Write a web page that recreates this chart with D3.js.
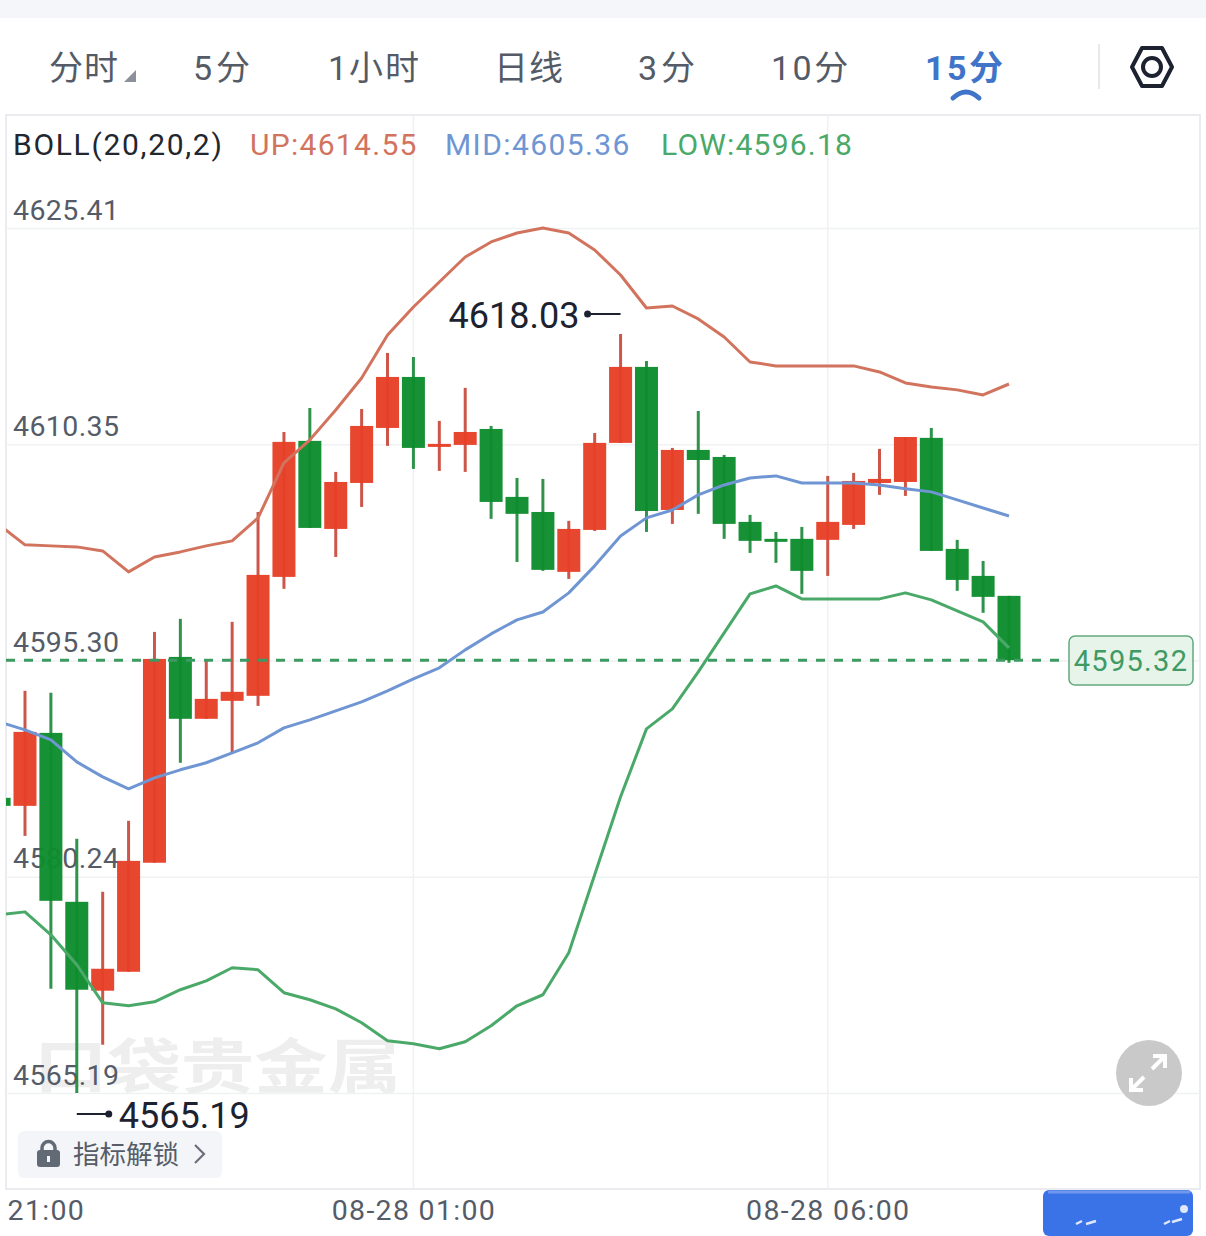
<!DOCTYPE html>
<html><head><meta charset="utf-8">
<script src="https://cdn.jsdelivr.net/npm/d3@7/dist/d3.min.js"></script>
<style>html,body{margin:0;padding:0;background:#fff;overflow:hidden}svg{display:block}
text{font-family:Roboto,"Noto Sans CJK SC",sans-serif}</style></head>
<body><div id="chart"></div>
<script>
// ---- data ----
const tabs = ["分时","5分","1小时","日线","3分","10分","15分"];
const tabX = [49,193,328,494,638,771,925];
const tabSpacing = [1,4,2,1,4,2.5,2.5];
const activeTab = 6;
const timeLabels = ["21:00","08-28 01:00","08-28 06:00"];
const timeTicks = [0,16,32];
const priceTicks = [4625.41,4610.35,4595.30,4580.24,4565.19];
const lastPrice = 4595.32;
const highMark = 4618.03, lowMark = 4565.19;
const opens  = [4585.74,4585.18,4590.26,4578.50,4572.31,4573.63,4581.22,4595.55,4591.24,4592.49,4592.84,4601.12,4610.59,4604.46,4607.66,4611.49,4615.04,4610.17,4610.31,4611.42,4606.69,4605.64,4601.47,4604.39,4610.45,4615.74,4605.78,4609.96,4609.47,4604.95,4603.77,4603.77,4603.70,4604.74,4607.66,4607.73,4610.80,4603.07,4601.19,4599.80];
const closes = [4585.18,4590.33,4578.57,4572.38,4573.84,4581.35,4595.41,4591.24,4592.63,4593.12,4601.26,4610.52,4604.53,4607.73,4611.63,4615.04,4610.10,4610.38,4611.21,4606.34,4605.51,4601.61,4604.46,4610.45,4615.74,4605.71,4609.96,4609.26,4604.81,4603.63,4603.56,4601.54,4604.95,4607.80,4607.94,4610.86,4602.93,4600.91,4599.73,4595.32];
const highs  = [4585.74,4593.19,4593.05,4582.89,4579.20,4584.14,4597.29,4598.20,4595.34,4597.99,4605.64,4611.21,4612.88,4608.43,4612.81,4616.71,4616.43,4611.98,4614.28,4611.63,4608.01,4607.94,4605.02,4611.14,4618.03,4616.15,4610.10,4612.67,4609.61,4605.44,4604.25,4604.60,4608.15,4608.36,4610.03,4610.86,4611.49,4603.70,4602.23,4599.80];
const lows   = [4585.18,4583.09,4572.45,4565.19,4568.55,4573.63,4581.22,4588.18,4591.24,4588.87,4592.14,4600.29,4604.53,4602.51,4605.99,4610.24,4608.64,4608.50,4608.43,4605.16,4602.16,4601.54,4600.98,4604.32,4610.45,4604.25,4604.81,4605.51,4603.77,4602.79,4602.10,4599.94,4601.19,4604.46,4606.83,4606.76,4602.93,4600.15,4598.62,4595.14];
const bollUp  = [4604.74,4603.35,4603.28,4603.21,4602.93,4601.47,4602.51,4602.86,4603.28,4603.63,4605.23,4609.06,4610.66,4612.74,4614.97,4617.96,4619.91,4621.65,4623.39,4624.44,4625.06,4625.41,4625.06,4623.88,4622.14,4619.84,4619.98,4619.08,4617.82,4616.08,4615.81,4615.81,4615.81,4615.81,4615.39,4614.62,4614.34,4614.14,4613.79,4614.55];
const bollMid = [4591.03,4590.47,4589.78,4588.24,4587.20,4586.37,4587.13,4587.69,4588.18,4588.87,4589.57,4590.61,4591.17,4591.79,4592.42,4593.19,4594.02,4594.79,4596.04,4597.15,4598.13,4598.68,4600.01,4601.89,4603.97,4605.23,4605.78,4606.83,4607.52,4608.01,4608.15,4607.66,4607.66,4607.66,4607.52,4607.25,4607.04,4606.48,4605.92,4605.36];
const bollLow = [4577.60,4577.80,4576.20,4574.12,4571.47,4571.26,4571.54,4572.38,4573.00,4573.91,4573.77,4572.17,4571.68,4571.05,4570.08,4568.83,4568.62,4568.27,4568.76,4569.87,4571.26,4572.03,4574.95,4580.38,4585.81,4590.54,4591.93,4594.51,4597.22,4599.94,4600.49,4599.59,4599.59,4599.59,4599.59,4600.01,4599.52,4598.75,4597.99,4596.18];

// ---- layout ----
const W = 1206, H = 1236;
const plot = {l:6, r:1200, t:115, b:1189};
const C = {red:"#e73f26", green:"#0e8c2d", redW:"#c7483a", greenW:"#1e8a3c",
  up:"#d2735e", mid:"#6f96d3", low:"#4aa968", grid:"#f0f1f3", frame:"#eaecef", tick:"#555c68", ink:"#1c2230", blue:"#3f74c9"};
const svg = d3.select("#chart").append("svg").attr("width",W).attr("height",H).attr("viewBox",`0 0 ${W} ${H}`);
const x = d3.scaleLinear().domain([0,39]).range([-0.9,1009]);
const y = d3.scaleLinear().domain([priceTicks[0],priceTicks[4]]).range([228,1093]);
const bodyW = 23;

svg.append("defs").append("clipPath").attr("id","plotClip").append("rect")
  .attr("x",plot.l).attr("y",plot.t).attr("width",plot.r-plot.l).attr("height",plot.b-plot.t);

// top strip and tabs
svg.append("rect").attr("width",W).attr("height",18).attr("fill","#f4f6f9");
tabs.forEach((t,i)=>{
  svg.append("text").attr("x",tabX[i]).attr("y",80).attr("font-size",34)
    .attr("letter-spacing",tabSpacing[i]).attr("font-weight",i===activeTab?700:400)
    .attr("fill",i===activeTab?C.blue:"#545b66").text(t);
});
svg.append("path").attr("d","M124,82H136V70Z").attr("fill","#8c9098");
svg.append("path").attr("d","M953,98Q966,86 979,98").attr("fill","none").attr("stroke",C.blue).attr("stroke-width",5).attr("stroke-linecap","round");
svg.append("line").attr("x1",1099).attr("x2",1099).attr("y1",44).attr("y2",89).attr("stroke","#e6e8eb").attr("stroke-width",2);
svg.append("path").attr("d","M1132,67L1142,48H1162L1172,67L1162,86H1142Z").attr("fill","none").attr("stroke",C.ink).attr("stroke-width",4).attr("stroke-linejoin","round");
svg.append("circle").attr("cx",1152).attr("cy",67).attr("r",9).attr("fill","none").attr("stroke",C.ink).attr("stroke-width",4);

// frame
svg.append("rect").attr("x",plot.l).attr("y",plot.t).attr("width",plot.r-plot.l).attr("height",plot.b-plot.t)
  .attr("fill","none").attr("stroke",C.frame).attr("stroke-width",2);

// watermark
svg.append("text").attr("transform","translate(34,1088) scale(1.02,0.82)").attr("font-size",72).attr("font-weight",700)
  .attr("fill","#eeeeee").text("口袋贵金属");

// y axis: grid lines + labels above them
const yAxis = d3.axisRight(y).tickValues(priceTicks).tickSize(plot.r-plot.l).tickFormat(d3.format(".2f"));
const gy = svg.append("g").attr("transform",`translate(${plot.l},0)`).call(yAxis);
gy.select(".domain").remove();
gy.selectAll("line").attr("stroke",C.grid).attr("stroke-width",1.5);
gy.selectAll("text").attr("x",7).attr("dy",-9).attr("text-anchor","start").attr("font-size",28.5)
  .attr("font-family",null).attr("letter-spacing",0.4).attr("fill",C.tick);

// x axis: vertical grid + labels
const xAxis = d3.axisBottom(x).tickValues(timeTicks).tickSize(0).tickFormat((d,i)=>timeLabels[i]);
const gx = svg.append("g").attr("transform",`translate(0,${plot.b})`).call(xAxis);
gx.select(".domain").remove();
gx.selectAll("text").attr("y",31).attr("dy",0).attr("font-size",28.5).attr("font-family",null).attr("letter-spacing",1.3).attr("fill",C.tick);
gx.selectAll("g.tick").filter(d=>d===0).select("text").attr("text-anchor","start").attr("x",8);
svg.append("g").selectAll("line").data(timeTicks.slice(1)).join("line")
  .attr("x1",d=>x(d)).attr("x2",d=>x(d)).attr("y1",plot.t).attr("y2",plot.b)
  .attr("stroke",C.grid).attr("stroke-width",1.5);

// legend
const legend = [
  {t:"BOLL(20,20,2)",x:13,c:"#22262e",s:1.7},
  {t:"UP:"+bollUp[39].toFixed(2),x:250,c:C.up,s:1.3},
  {t:"MID:"+bollMid[39].toFixed(2),x:445,c:C.mid,s:1.4},
  {t:"LOW:"+bollLow[39].toFixed(2),x:661,c:C.low,s:1.2}];
legend.forEach(d=>svg.append("text").attr("x",d.x).attr("y",155).attr("font-size",30).attr("letter-spacing",d.s).attr("fill",d.c).text(d.t));

// candles
const candles = opens.map((o,i)=>({i,o,c:closes[i],h:highs[i],l:lows[i]}));
const gc = svg.append("g").attr("clip-path","url(#plotClip)");
gc.selectAll("line.w").data(candles).join("line").attr("class","w")
  .attr("x1",d=>x(d.i)).attr("x2",d=>x(d.i)).attr("y1",d=>y(d.h)).attr("y2",d=>y(d.l))
  .attr("stroke",d=>d.c>=d.o?C.redW:C.greenW).attr("stroke-width",3).attr("stroke-opacity",0.92);
gc.selectAll("rect.b").data(candles).join("rect").attr("class","b")
  .attr("x",d=>x(d.i)-bodyW/2).attr("width",bodyW)
  .attr("y",d=>y(Math.max(d.o,d.c))).attr("height",d=>Math.max(2.5,Math.abs(y(d.o)-y(d.c))))
  .attr("fill",d=>d.c>=d.o?C.red:C.green).attr("fill-opacity",0.96);

// last-price dashed line
svg.append("line").attr("x1",plot.l).attr("x2",1060).attr("y1",y(lastPrice)).attr("y2",y(lastPrice))
  .attr("stroke","#3c9a62").attr("stroke-width",3).attr("stroke-dasharray","9 9");

// bollinger lines
const line = d3.line().x((d,i)=>x(i)).y(d=>y(d));
[[bollUp,C.up],[bollMid,C.mid],[bollLow,C.low]].forEach(([s,c])=>{
  svg.append("path").datum(s).attr("clip-path","url(#plotClip)").attr("d",line)
    .attr("fill","none").attr("stroke",c).attr("stroke-width",3).attr("stroke-linejoin","round");
});

// last price tag
svg.append("rect").attr("x",1069).attr("y",636).attr("width",124).attr("height",49).attr("rx",6)
  .attr("fill","#e6f4ea").attr("stroke","#61a97e").attr("stroke-width",1.5);
svg.append("text").attr("x",1131).attr("y",671).attr("text-anchor","middle").attr("font-size",29)
  .attr("letter-spacing",1.3).attr("fill","#3f9a63").text(lastPrice.toFixed(2));

// high / low markers
const hi = highs.indexOf(highMark), lo = lows.indexOf(lowMark);
const hy = y(highMark)-20, ly = y(lowMark)+21;
svg.append("text").attr("x",x(hi)-172).attr("y",hy+14).attr("font-size",36).attr("fill",C.ink).text(highMark.toFixed(2));
svg.append("line").attr("x1",x(hi)-33).attr("x2",x(hi)).attr("y1",hy).attr("y2",hy).attr("stroke",C.ink).attr("stroke-width",1.8);
svg.append("circle").attr("cx",x(hi)-33).attr("cy",hy).attr("r",3.5).attr("fill",C.ink);
svg.append("text").attr("x",x(lo)+42).attr("y",ly+14).attr("font-size",36).attr("fill",C.ink).text(lowMark.toFixed(2));
svg.append("line").attr("x1",x(lo)).attr("x2",x(lo)+32).attr("y1",ly).attr("y2",ly).attr("stroke",C.ink).attr("stroke-width",1.8);
svg.append("circle").attr("cx",x(lo)+32).attr("cy",ly).attr("r",3.5).attr("fill",C.ink);

// unlock button
svg.append("rect").attr("x",18).attr("y",1131).attr("width",204).attr("height",47).attr("rx",6).attr("fill","#f3f5f8");
svg.append("rect").attr("x",37).attr("y",1150).attr("width",23).attr("height",17).attr("rx",3).attr("fill","#626a76");
svg.append("path").attr("d","M42,1151V1148A6.5,6.5 0 0 1 55,1148V1151").attr("fill","none").attr("stroke","#626a76").attr("stroke-width",3.5);
svg.append("rect").attr("x",47).attr("y",1156).attr("width",3).attr("height",6).attr("fill","#f3f5f8");
svg.append("text").attr("x",73).attr("y",1164).attr("font-size",26.5).attr("fill","#565d68").text("指标解锁");
svg.append("path").attr("d","M195,1145L204,1154L195,1163").attr("fill","none").attr("stroke","#6a717c").attr("stroke-width",2.2);

// expand button
svg.append("ellipse").attr("cx",1149).attr("cy",1073).attr("rx",33).attr("ry",33).attr("fill","#c9c9c9");
svg.append("path").attr("d","M1152,1069L1165,1056M1153,1056H1165V1068M1144,1077L1131,1090M1131,1078V1090H1143")
  .attr("fill","none").attr("stroke","#fff").attr("stroke-width",4);

// blue blob bottom right
svg.append("rect").attr("x",1043).attr("y",1190).attr("width",150).attr("height",46).attr("rx",6).attr("fill","#3a72e8");
svg.append("path").attr("d","M1048,1192H1190").attr("stroke","#6f98ee").attr("stroke-width",3);
svg.append("path").attr("d","M1076,1224L1082,1221M1086,1224L1096,1221M1164,1224L1170,1221M1172,1222L1182,1219")
  .attr("fill","none").attr("stroke","#dfe8fb").attr("stroke-width",2.5);
svg.append("circle").attr("cx",1184).attr("cy",1209).attr("r",4).attr("fill","#dfe8fb");
</script></body></html>
